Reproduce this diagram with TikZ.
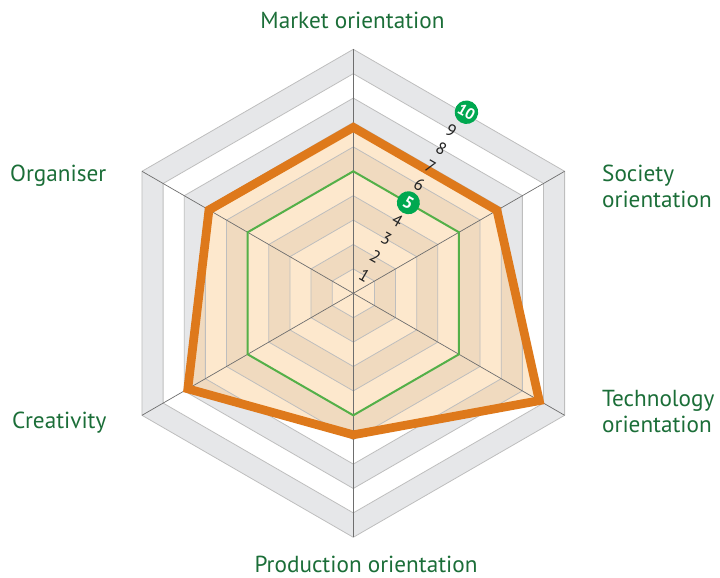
\documentclass[tikz,border=0pt]{standalone}
\usepackage{fontspec}
\setmainfont{PT Sans}
\definecolor{bandgray}{RGB}{230,231,233}
\definecolor{peach}{RGB}{253,232,205}
\definecolor{tan}{RGB}{240,218,191}
\definecolor{gridline}{RGB}{190,190,190}
\definecolor{axisline}{RGB}{110,110,110}
\definecolor{lvlgreen}{RGB}{84,176,72}
\definecolor{badgegreen}{RGB}{0,168,80}
\definecolor{scoreorange}{RGB}{222,121,27}
\definecolor{labelgreen}{RGB}{27,110,56}
\definecolor{digitgray}{RGB}{35,35,35}
\newcommand\hexring[1]{(90:{#1*24.4}) -- (30:{#1*24.4}) -- (-30:{#1*24.4}) -- (-90:{#1*24.4}) -- (-150:{#1*24.4}) -- (150:{#1*24.4}) -- cycle}
\tikzset{
  axislabel/.style={text=labelgreen, font=\fontsize{23.2}{26}\selectfont, inner sep=0pt},
  digitlabel/.style={text=digitgray, font=\fontsize{17}{17}\selectfont, inner sep=0pt, rotate=-30},
  badge/.style={circle, fill=badgegreen, text=white, font=\bfseries\fontsize{15.5}{15.5}\selectfont, inner sep=0pt, minimum size=23.5pt, rotate=-30},
  gridring/.style={draw=gridline, line width=0.8pt},
  axisray/.style={draw=axisline, line width=0.7pt},
}
\begin{document}
\begin{tikzpicture}[x=1pt,y=1pt]
\useasboundingbox (0,0) rectangle (720,578);
\begin{scope}[shift={(353.3,284.7)}]
  \coordinate (O) at (0,0);
  % background bands
  \fill[bandgray] \hexring{10};
  \fill[white] \hexring{9};
  \fill[bandgray] \hexring{8};
  \fill[white] \hexring{7};
  % score polygon vertices
  \coordinate (pM) at (90:{6.8*24.4});
  \coordinate (pS) at (30:{6.8*24.4});
  \coordinate (pT) at (-30:{8.8*24.4});
  \coordinate (pP) at (-90:{5.8*24.4});
  \coordinate (pC) at (-150:{7.83*24.4});
  \coordinate (pO) at (150:{6.83*24.4});
  \fill[peach] (pM) -- (pS) -- (pT) -- (pP) -- (pC) -- (pO) -- cycle;
  \begin{scope}
    \clip (pM) -- (pS) -- (pT) -- (pP) -- (pC) -- (pO) -- cycle;
    \fill[tan, even odd rule] \hexring{2} \hexring{1};
    \fill[tan, even odd rule] \hexring{4} \hexring{3};
    \fill[tan, even odd rule] \hexring{6} \hexring{5};
    \fill[tan, even odd rule] \hexring{8} \hexring{7};
  \end{scope}
  % grid rings
  \foreach \k in {1,...,10} { \draw[gridring] \hexring{\k}; }
  % axes
  \foreach \a in {90,30,-30,-90,-150,150} { \draw[axisray] (O) -- (\a:244); }
  % level 5 ring
  \draw[lvlgreen, line width=2pt] \hexring{5};
  % score line
  \draw[scoreorange, line width=8.7pt, line join=miter, miter limit=20] (pM) -- (pS) -- (pT) -- (pP) -- (pC) -- (pO) -- cycle;
  % scale digits
  \foreach \k in {1,2,3,4,6,7,8} { \node[digitlabel] (d\k) at (58.7:{\k*21.2}) {\k}; }
  \node[digitlabel] (d9) at (58.9:{9*21.05}) {9};
  \node[badge, font=\bfseries\fontsize{17}{17}\selectfont, minimum size=23pt] (b5) at (58.7:{5*21.2}) {5};
  \node[badge] (b10) at (58.0:{10*21.35}) {10};
\end{scope}
% axis labels
\node[axislabel, anchor=base] (lM) at (352.5,549.7) {Market orientation};
\node[axislabel, align=left, anchor=north west] (lS) at (602,413) {Society\\orientation};
\node[axislabel, align=left, anchor=north west] (lT) at (602,188) {Technology\\orientation};
\node[axislabel, anchor=base] (lP) at (366,5.5) {Production orientation};
\node[axislabel, anchor=base west] (lO) at (10,396.3) {Organiser};
\node[axislabel, anchor=base west] (lC) at (12,149.7) {Creativity};
\end{tikzpicture}
\end{document}
